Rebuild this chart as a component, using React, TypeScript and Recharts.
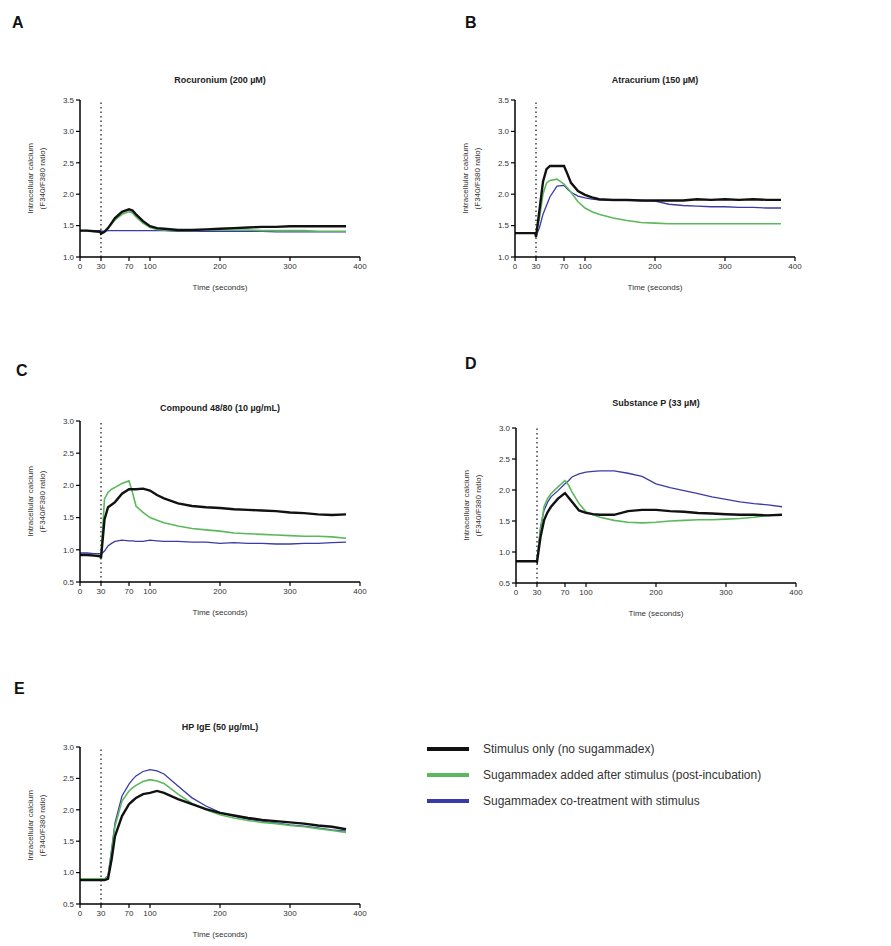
import React from "react";
import { LineChart, Line, XAxis, YAxis, ReferenceLine } from "recharts";

// sampling times (s) shared by every panel
const TIME = [0, 10, 20, 29, 30, 35, 40, 45, 50, 60, 70, 75, 80, 90, 100, 110, 120, 140, 160, 180, 200, 220, 240, 260, 280, 300, 320, 340, 360, 380];
const X_TICKS = [0, 30, 70, 100, 200, 300, 400];

// A - Rocuronium
const rocStim = [1.42, 1.42, 1.41, 1.4, 1.37, 1.4, 1.46, 1.54, 1.62, 1.72, 1.76, 1.74, 1.68, 1.57, 1.49, 1.46, 1.45, 1.43, 1.43, 1.44, 1.45, 1.46, 1.47, 1.48, 1.48, 1.49, 1.49, 1.49, 1.49, 1.49];
const rocPost = [1.42, 1.42, 1.41, 1.4, 1.38, 1.4, 1.45, 1.52, 1.59, 1.68, 1.72, 1.7, 1.64, 1.54, 1.47, 1.44, 1.43, 1.42, 1.42, 1.43, 1.43, 1.43, 1.43, 1.42, 1.42, 1.42, 1.42, 1.41, 1.41, 1.41];
const rocCo = [1.42, 1.42, 1.42, 1.42, 1.41, 1.41, 1.42, 1.42, 1.42, 1.42, 1.42, 1.42, 1.42, 1.42, 1.42, 1.42, 1.42, 1.41, 1.41, 1.41, 1.41, 1.41, 1.41, 1.41, 1.4, 1.4, 1.4, 1.4, 1.4, 1.4];

// B - Atracurium
const atrStim = [1.38, 1.38, 1.38, 1.38, 1.32, 1.75, 2.2, 2.4, 2.45, 2.45, 2.45, 2.32, 2.18, 2.05, 1.99, 1.95, 1.92, 1.91, 1.91, 1.9, 1.9, 1.9, 1.9, 1.92, 1.91, 1.92, 1.91, 1.92, 1.91, 1.91];
const atrPost = [1.38, 1.38, 1.38, 1.38, 1.34, 1.62, 2.0, 2.18, 2.22, 2.24, 2.16, 2.1, 2.03, 1.88, 1.78, 1.72, 1.68, 1.62, 1.58, 1.55, 1.54, 1.53, 1.53, 1.53, 1.53, 1.53, 1.53, 1.53, 1.53, 1.53];
const atrCo = [1.38, 1.38, 1.38, 1.38, 1.33, 1.47, 1.68, 1.82, 1.96, 2.13, 2.14, 2.08, 2.03, 1.97, 1.94, 1.92, 1.91, 1.9, 1.9, 1.9, 1.89, 1.84, 1.82, 1.81, 1.8, 1.8, 1.79, 1.79, 1.78, 1.78];

// C - Compound 48/80
const c48Stim = [0.92, 0.92, 0.91, 0.9, 0.87, 1.47, 1.66, 1.7, 1.74, 1.87, 1.94, 1.94, 1.94, 1.95, 1.92, 1.85, 1.8, 1.72, 1.68, 1.66, 1.65, 1.63, 1.62, 1.61, 1.6, 1.58, 1.57, 1.55, 1.54, 1.55];
const c48Post = [0.92, 0.92, 0.92, 0.91, 0.9, 1.79, 1.89, 1.94, 1.97, 2.03, 2.07, 1.89, 1.68, 1.58, 1.5, 1.46, 1.42, 1.37, 1.33, 1.31, 1.29, 1.26, 1.25, 1.24, 1.23, 1.22, 1.21, 1.21, 1.2, 1.18];
const c48Co = [0.95, 0.95, 0.94, 0.94, 0.93, 0.98, 1.06, 1.1, 1.13, 1.15, 1.14, 1.14, 1.13, 1.13, 1.15, 1.14, 1.13, 1.13, 1.12, 1.12, 1.1, 1.11, 1.1, 1.1, 1.09, 1.09, 1.1, 1.1, 1.11, 1.12];

// D - Substance P
const spStim = [0.85, 0.85, 0.85, 0.85, 0.84, 1.24, 1.51, 1.64, 1.73, 1.86, 1.95, 1.88, 1.81, 1.67, 1.63, 1.61, 1.6, 1.6, 1.66, 1.68, 1.68, 1.66, 1.65, 1.63, 1.62, 1.61, 1.6, 1.6, 1.59, 1.6];
const spPost = [0.85, 0.85, 0.85, 0.85, 0.86, 1.35, 1.73, 1.86, 1.94, 2.05, 2.15, 2.08, 1.97, 1.78, 1.65, 1.6, 1.56, 1.51, 1.48, 1.47, 1.48, 1.5, 1.51, 1.52, 1.52, 1.53, 1.54, 1.56, 1.59, 1.6];
const spCo = [0.85, 0.85, 0.85, 0.85, 0.86, 1.4, 1.67, 1.8, 1.89, 1.99, 2.1, 2.15, 2.21, 2.26, 2.29, 2.3, 2.31, 2.31, 2.27, 2.22, 2.1, 2.04, 1.99, 1.94, 1.89, 1.85, 1.81, 1.78, 1.76, 1.73];

// E - HP IgE
const hpStim = [0.88, 0.88, 0.88, 0.88, 0.88, 0.88, 0.9, 1.2, 1.58, 1.9, 2.09, 2.14, 2.19, 2.25, 2.27, 2.3, 2.27, 2.17, 2.09, 2.01, 1.95, 1.91, 1.87, 1.84, 1.82, 1.8, 1.78, 1.75, 1.73, 1.69];
const hpPost = [0.9, 0.9, 0.9, 0.9, 0.9, 0.9, 0.93, 1.31, 1.74, 2.14, 2.3, 2.35, 2.39, 2.45, 2.48, 2.46, 2.42, 2.25, 2.1, 2.0, 1.92, 1.87, 1.83, 1.8, 1.78, 1.75, 1.73, 1.7, 1.67, 1.64];
const hpCo = [0.9, 0.9, 0.9, 0.9, 0.9, 0.9, 0.95, 1.36, 1.79, 2.22, 2.41, 2.48, 2.54, 2.61, 2.64, 2.62, 2.57, 2.38, 2.19, 2.06, 1.96, 1.9, 1.85, 1.82, 1.79, 1.76, 1.74, 1.71, 1.68, 1.66];

const TICKS_HI = [1, 1.5, 2, 2.5, 3, 3.5];
const TICKS_LO = [0.5, 1, 1.5, 2, 2.5, 3];

const BLACK = "#111111";
const GREEN = "#5cb85c";
const BLUE = "#3b3ba8";
const FONT = "'Liberation Sans', Arial, sans-serif";

const rows = (stim: number[], post: number[], co: number[]) =>
  TIME.map((t, i) => ({ t, stim: stim[i], post: post[i], co: co[i] }));

function YLabel({ viewBox }: any) {
  const cx = viewBox.x;
  const cy = viewBox.y + viewBox.height / 2;
  return (
    <g fontFamily={FONT} fontSize={8} fill="#333">
      <text x={cx + 33} y={cy} transform={`rotate(-90 ${cx + 33} ${cy})`} textAnchor="middle">
        Intracellular calcium
      </text>
      <text x={cx + 45} y={cy} transform={`rotate(-90 ${cx + 45} ${cy})`} textAnchor="middle">
        (F340/F380 ratio)
      </text>
    </g>
  );
}

type PanelProps = {
  letter: string;
  letterX: number;
  letterY: number;
  title: string;
  titleY: number;
  left: number;
  top: number;
  plotH: number;
  data: any[];
  yTicks: number[];
};

function Panel({ letter, letterX, letterY, title, titleY, left, top, plotH, data, yTicks }: PanelProps) {
  const plotW = 280;
  return (
    <>
      <div style={{ position: "absolute", left: letterX, top: letterY, fontFamily: FONT, fontWeight: 700, fontSize: 16, color: "#111" }}>
        {letter}
      </div>
      <div
        style={{
          position: "absolute",
          left: left,
          top: titleY,
          width: plotW,
          textAlign: "center",
          fontFamily: FONT,
          fontSize: 9,
          fontWeight: 700,
          color: "#222",
        }}
      >
        {title}
      </div>
      <div style={{ position: "absolute", left: left - 80, top: top - 10 }}>
        <LineChart width={plotW + 90} height={plotH + 50} data={data} margin={{ top: 10, right: 10, bottom: 10, left: 0 }}>
          <XAxis
            dataKey="t"
            type="number"
            domain={[0, 400]}
            ticks={X_TICKS}
            interval={0}
            height={30}
            axisLine={{ stroke: "#000", strokeWidth: 1.5 }}
            tickLine={{ stroke: "#000", strokeWidth: 1.2 }}
            tickSize={4}
            tick={{ fill: "#333", fontSize: 8, fontFamily: FONT }}
            label={{ value: "Time (seconds)", position: "insideBottom", offset: -3, fill: "#333", fontSize: 8, fontFamily: FONT }}
          />
          <YAxis
            type="number"
            domain={[yTicks[0], yTicks[yTicks.length - 1]]}
            ticks={yTicks}
            interval={0}
            width={80}
            allowDataOverflow
            axisLine={{ stroke: "#000", strokeWidth: 1.5 }}
            tickLine={{ stroke: "#000", strokeWidth: 1.2 }}
            tickSize={4}
            tickFormatter={(v: number) => v.toFixed(1)}
            tick={{ fill: "#333", fontSize: 8, fontFamily: FONT }}
            label={<YLabel />}
          />
          <ReferenceLine x={30} stroke="#222" strokeDasharray="1.5 3" strokeWidth={1.3} />
          <Line type="linear" dataKey="co" stroke={BLUE} strokeWidth={1.3} dot={false} isAnimationActive={false} />
          <Line type="linear" dataKey="post" stroke={GREEN} strokeWidth={1.6} dot={false} isAnimationActive={false} />
          <Line type="linear" dataKey="stim" stroke={BLACK} strokeWidth={2.4} dot={false} isAnimationActive={false} />
        </LineChart>
      </div>
    </>
  );
}

const LEGEND = [
  { label: "Stimulus only (no sugammadex)", color: BLACK },
  { label: "Sugammadex added after stimulus (post-incubation)", color: GREEN },
  { label: "Sugammadex co-treatment with stimulus", color: BLUE },
];

export default function App() {
  return (
    <div style={{ position: "absolute", left: 0, top: 0, width: 891, height: 946, background: "#fff", overflow: "hidden" }}>
      <Panel letter="A" letterX={12} letterY={14} title="Rocuronium (200 µM)" titleY={75} left={80} top={100} plotH={157} data={rows(rocStim, rocPost, rocCo)} yTicks={TICKS_HI} />
      <Panel letter="B" letterX={465} letterY={14} title="Atracurium (150 µM)" titleY={75} left={515} top={100} plotH={157} data={rows(atrStim, atrPost, atrCo)} yTicks={TICKS_HI} />
      <Panel letter="C" letterX={16} letterY={362} title="Compound 48/80 (10 µg/mL)" titleY={403} left={80} top={421} plotH={161} data={rows(c48Stim, c48Post, c48Co)} yTicks={TICKS_LO} />
      <Panel letter="D" letterX={465} letterY={355} title="Substance P (33 µM)" titleY={398} left={516} top={428} plotH={155} data={rows(spStim, spPost, spCo)} yTicks={TICKS_LO} />
      <Panel letter="E" letterX={14} letterY={680} title="HP IgE (50 µg/mL)" titleY={722} left={80} top={747} plotH={157} data={rows(hpStim, hpPost, hpCo)} yTicks={TICKS_LO} />
      {LEGEND.map((l, i) => (
        <div key={l.label} style={{ position: "absolute", left: 427, top: 742 + i * 26, display: "flex", alignItems: "center", fontFamily: FONT, fontSize: 12, color: "#333", whiteSpace: "nowrap" }}>
          <div style={{ width: 42, height: 4, background: l.color, marginRight: 14 }} />
          {l.label}
        </div>
      ))}
    </div>
  );
}
